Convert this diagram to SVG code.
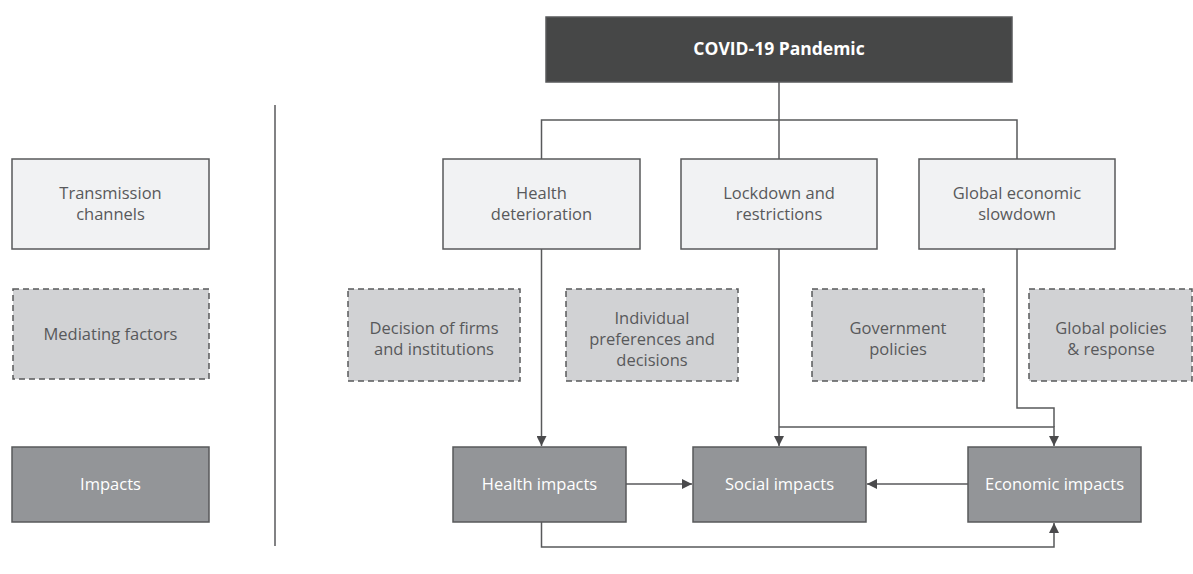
<svg xmlns="http://www.w3.org/2000/svg" width="1193" height="574" viewBox="0 0 1193 574">
<style>
text{font-family:"Open Sans","Liberation Sans",sans-serif;font-size:16.5px;text-anchor:middle}
.tc rect{fill:#f1f2f3;stroke:#58595b;stroke-width:1.5}
.tc text{fill:#58595b}
.mf rect{fill:#d1d2d4;stroke:#58595b;stroke-width:1.5;stroke-dasharray:6 4}
.mf text{fill:#58595b}
.im rect{fill:#939598;stroke:#58595b;stroke-width:1.5}
.im text{fill:#ffffff}
.ln{fill:none;stroke:#58595b;stroke-width:1.5}
</style>
<defs>
<marker id="ah" viewBox="0 0 10 10" refX="10" refY="5" markerWidth="10" markerHeight="10" markerUnits="userSpaceOnUse" orient="auto">
<path d="M0,0 L10,5 L0,10 Z" fill="#4a4a4c"/>
</marker>
</defs>
<g id="connectors">
<line class="ln" x1="275" y1="105" x2="275" y2="546"/>
<line class="ln" x1="779" y1="82" x2="779" y2="120"/>
<polyline class="ln" points="541.5,159 541.5,120 1017,120 1017,159"/>
<line class="ln" x1="779" y1="120" x2="779" y2="159"/>
<line class="ln" x1="541.5" y1="249" x2="541.5" y2="446" marker-end="url(#ah)"/>
<line class="ln" x1="779" y1="249" x2="779" y2="446" marker-end="url(#ah)"/>
<polyline class="ln" points="779,427 1054,427 1054,446" marker-end="url(#ah)"/>
<polyline class="ln" points="1017,249 1017,408 1054,408 1054,427"/>
<line class="ln" x1="626" y1="484" x2="692" y2="484" marker-end="url(#ah)"/>
<line class="ln" x1="968" y1="484" x2="867" y2="484" marker-end="url(#ah)"/>
<polyline class="ln" points="541.5,522 541.5,547 1054,547 1054,523" marker-end="url(#ah)"/>
</g>
<g id="covid">
<rect x="546" y="17" width="466" height="65" fill="#464747" stroke="#58595b" stroke-width="1.5"/>
<text x="779" y="55" fill="#ffffff" font-weight="bold" style="font-size:17.5px">COVID-19 Pandemic</text>
</g>
<g id="legend-transmission" class="tc">
<rect x="12" y="159" width="197" height="90"/>
<text x="110.5" y="199">Transmission</text>
<text x="110.5" y="220">channels</text>
</g>
<g id="legend-mediating" class="mf">
<rect x="13" y="289" width="196" height="90"/>
<text x="110.5" y="340">Mediating factors</text>
</g>
<g id="legend-impacts" class="im">
<rect x="12" y="447" width="197" height="75"/>
<text x="110.5" y="490">Impacts</text>
</g>
<g id="health-deterioration" class="tc">
<rect x="443" y="159" width="197" height="90"/>
<text x="541.5" y="199">Health</text>
<text x="541.5" y="220">deterioration</text>
</g>
<g id="lockdown" class="tc">
<rect x="681" y="159" width="196" height="90"/>
<text x="779" y="199">Lockdown and</text>
<text x="779" y="220">restrictions</text>
</g>
<g id="global-slowdown" class="tc">
<rect x="919" y="159" width="196" height="90"/>
<text x="1017" y="199">Global economic</text>
<text x="1017" y="220">slowdown</text>
</g>
<g id="decision-firms" class="mf">
<rect x="348" y="289" width="172" height="92"/>
<text x="434" y="334">Decision of firms</text>
<text x="434" y="355">and institutions</text>
</g>
<g id="individual-preferences" class="mf">
<rect x="566" y="289" width="172" height="92"/>
<text x="652" y="324">Individual</text>
<text x="652" y="345">preferences and</text>
<text x="652" y="366">decisions</text>
</g>
<g id="government-policies" class="mf">
<rect x="812" y="289" width="172" height="92"/>
<text x="898" y="334">Government</text>
<text x="898" y="355">policies</text>
</g>
<g id="global-policies" class="mf">
<rect x="1029" y="289" width="163" height="92"/>
<text x="1111" y="334">Global policies</text>
<text x="1111" y="355">&amp; response</text>
</g>
<g id="health-impacts" class="im">
<rect x="453" y="447" width="173" height="75"/>
<text x="539.5" y="490">Health impacts</text>
</g>
<g id="social-impacts" class="im">
<rect x="693" y="447" width="173" height="75"/>
<text x="779.5" y="490">Social impacts</text>
</g>
<g id="economic-impacts" class="im">
<rect x="968" y="447" width="173" height="75"/>
<text x="1054.5" y="490">Economic impacts</text>
</g>
</svg>
